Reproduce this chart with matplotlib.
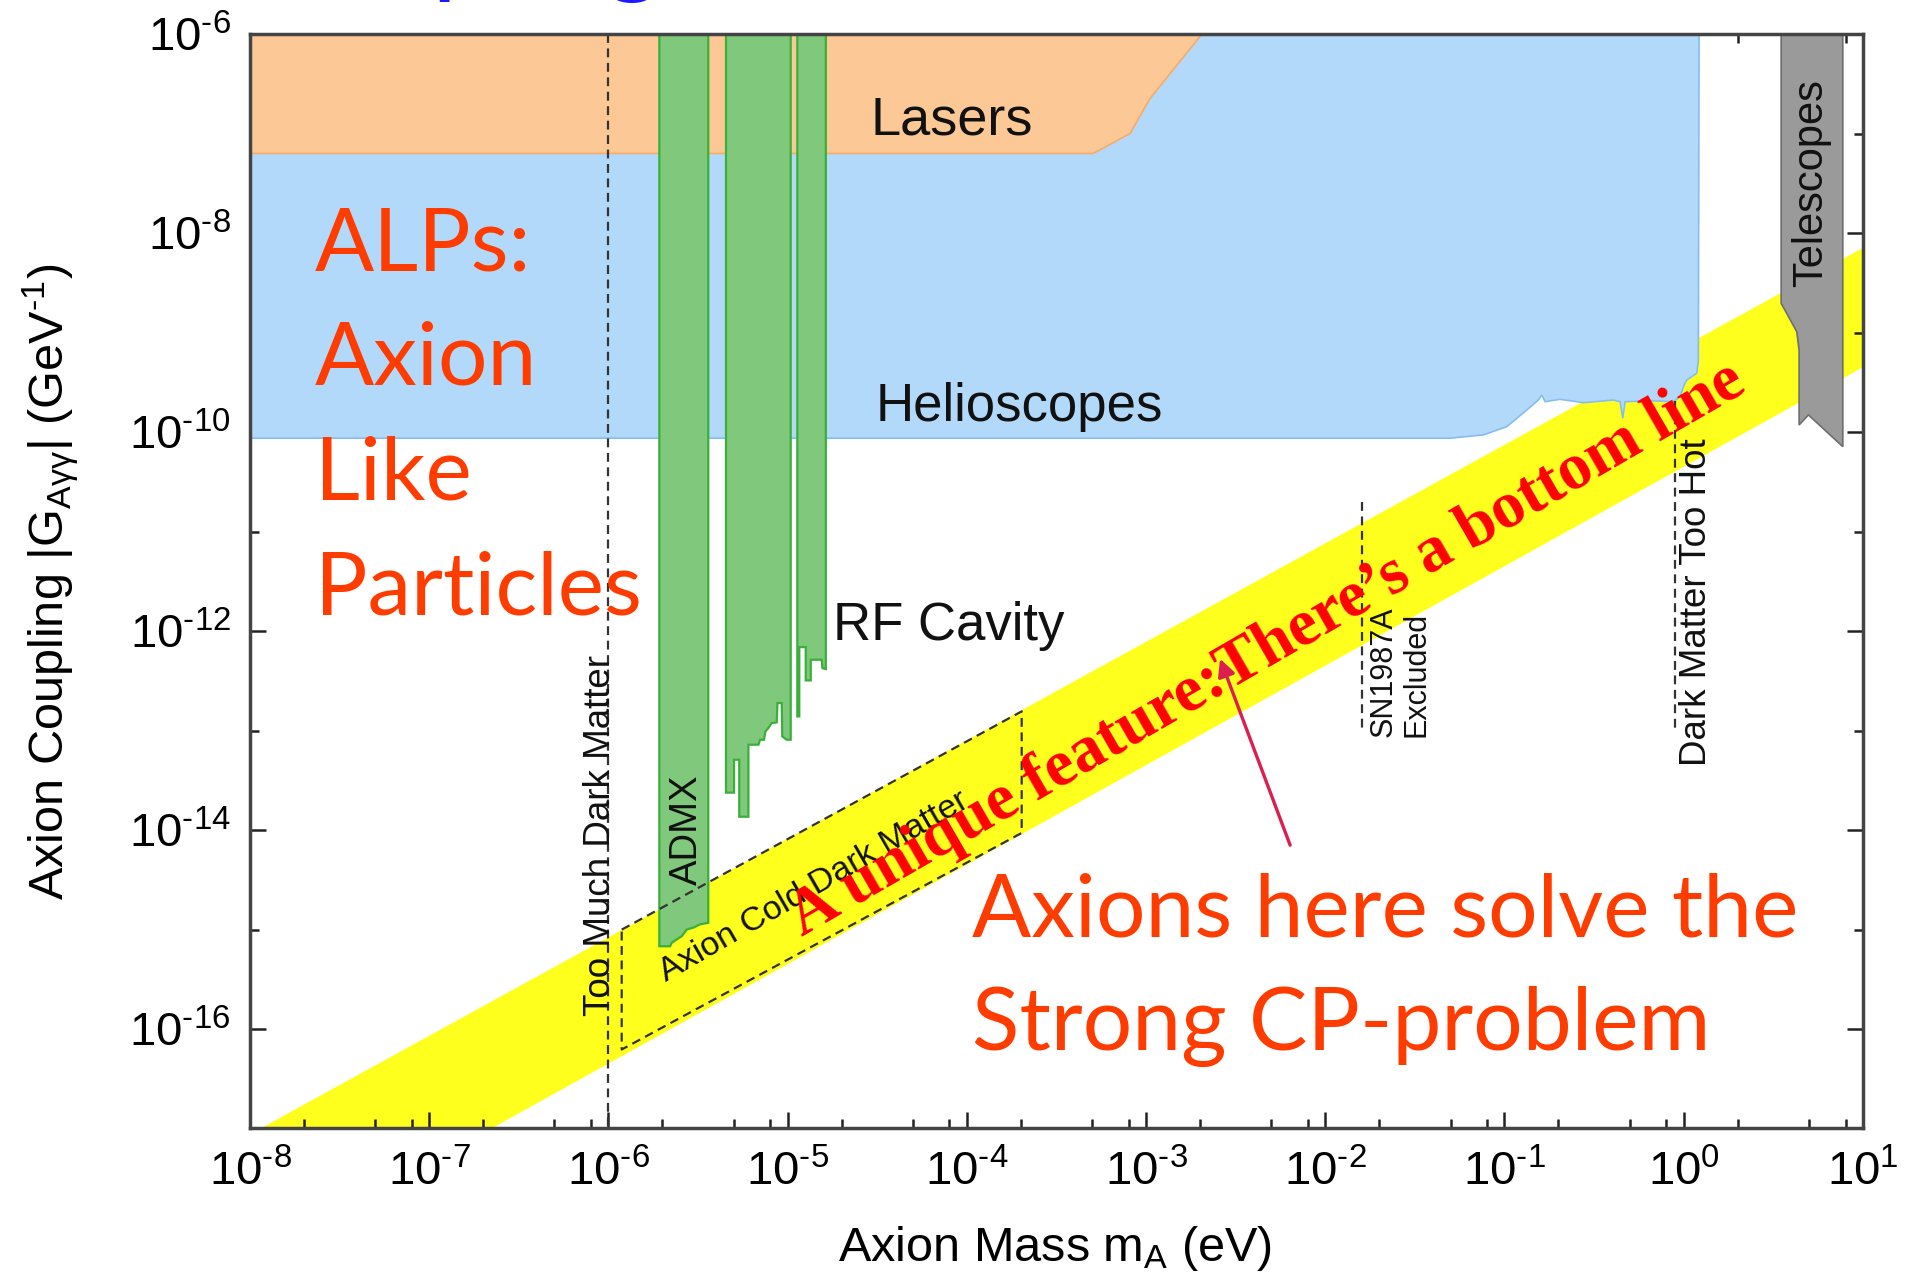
import numpy as np
import matplotlib
matplotlib.use('Agg')
import matplotlib.pyplot as plt
from matplotlib.ticker import NullFormatter

plt.rcParams['font.family'] = ['Liberation Sans', 'DejaVu Sans']
plt.rcParams['mathtext.fontset'] = 'custom'
plt.rcParams['mathtext.rm'] = 'Liberation Sans'
plt.rcParams['mathtext.it'] = 'Liberation Sans:italic'
plt.rcParams['mathtext.default'] = 'regular'
plt.rcParams['axes.unicode_minus'] = False

# axis decades (log10)
x_decades = list(range(-8, 2))
x_minor_mult = [2, 5, 8]
y_label_decades = [-16, -14, -12, -10, -8, -6]
y_minor_decades = [-15, -13, -11, -9, -7]

# region outlines, all in log10(m_A / eV) and log10(g / GeV^-1)
lasers_logm = [-8, -3.294, -3.089, -2.978, -2.689, -8]
lasers_logg = [-7.198, -7.198, -6.997, -6.646, -6.0, -6.0]

helio_logm = [-8, -8, -1.304, -1.118, -0.987, -0.875, -0.811, -0.792, -0.773, -0.690,
              -0.560, -0.392, -0.355, -0.340, -0.327, -0.187, -0.057, -0.020, -0.001,
              0.017, 0.073, 0.082, 0.086]
helio_logg = [-6, -10.061, -10.061, -10.028, -9.945, -9.777, -9.677, -9.626, -9.694, -9.670,
              -9.704, -9.677, -9.694, -9.860, -9.694, -9.684, -9.694, -9.643, -9.543,
              -9.476, -9.408, -9.275, -6]

admx_logm = [-5.716, -5.716, -5.656, -5.647, -5.619, -5.591, -5.563, -5.526, -5.489, -5.443, -5.443]
admx_logg = [-6, -15.168, -15.168, -15.134, -15.099, -15.067, -15.000, -14.981, -14.948, -14.932, -6]

rf1_logm = [-5.344, -5.344, -5.299, -5.299, -5.270, -5.270, -5.219, -5.219, -5.163, -5.154, -5.132,
            -5.124, -5.108, -5.089, -5.061, -5.057, -5.033, -5.030, -5.005, -4.983, -4.983]
rf1_logg = [-6, -13.624, -13.624, -13.293, -13.293, -13.866, -13.866, -13.142, -13.142, -13.092, -13.092,
            -13.009, -12.976, -12.924, -12.918, -12.723, -12.723, -13.059, -13.092, -13.092, -6]

rf2_logm = [-4.946, -4.946, -4.935, -4.935, -4.899, -4.899, -4.871, -4.871, -4.810, -4.806, -4.787, -4.787]
rf2_logg = [-6, -12.858, -12.858, -12.161, -12.161, -12.496, -12.496, -12.288, -12.288, -12.372, -12.382, -6]

tele_logm = [0.544, 0.544, 0.631, 0.644, 0.644, 0.696, 0.888, 0.888]
tele_logg = [-6, -8.705, -8.990, -9.174, -9.928, -9.827, -10.146, -6]

# QCD axion band (yellow) and cold dark matter window
band_logm = [-8, 1]
band_upper = [-17.05, -8.14]
band_lower = [-18.34, -9.34]
cdm_logm = [-5.926, -3.694, -3.694, -5.926, -5.926]
cdm_logg = [-15.001, -12.807, -14.029, -16.206, -15.001]

# dashed limits: (log m, log g top, log g bottom)
too_much_dm = (-6.0, -6.0, -17.0)
sn1987a = (-1.797, -10.698, -13.008)
dm_too_hot = (-0.048, -9.69, -12.99)


def p10(v):
    return 10.0 ** np.asarray(v, dtype=float)


def pow_label(d):
    # plain hyphen in the exponent, as gnuplot draws it
    return f'$10^{{\\text{{{d}}}}}$'


fig = plt.figure(figsize=(19.13, 12.77), dpi=100)
ax = fig.add_axes([0.1307, 0.1163, 0.8431, 0.8569])
ax.set_xscale('log')
ax.set_yscale('log')

ax.fill_between(p10(band_logm), p10(band_lower), p10(band_upper), color='#FFFF1E', lw=0, zorder=1)
ax.fill(p10(helio_logm), p10(helio_logg), facecolor='#B3D9FA', edgecolor='#86BDF0', lw=1.2, zorder=2)
ax.fill(p10(lasers_logm), p10(lasers_logg), facecolor='#FCC996', edgecolor='#F6AC66', lw=1.2, zorder=2)
for xs, ys in [(admx_logm, admx_logg), (rf1_logm, rf1_logg), (rf2_logm, rf2_logg)]:
    ax.fill(p10(xs), p10(ys), facecolor='#80C97C', edgecolor='#3AAF3A', lw=1.6, zorder=3)
ax.fill(p10(tele_logm), p10(tele_logg), facecolor='#9A9A9A', edgecolor='#6E6E6E', lw=1.2, zorder=3)

dash = dict(color='#333333', lw=1.6, ls=(0, (4, 2.5)), zorder=4)
ax.plot(p10(cdm_logm), p10(cdm_logg), **dash)
for lm, top, bot in [too_much_dm, sn1987a, dm_too_hot]:
    ax.plot(p10([lm, lm]), p10([top, bot]), **dash)

ax.set_xlim(1e-8, 10)
ax.set_ylim(1e-17, 1e-6)

# ticks
ax.set_xticks(p10(x_decades))
ax.set_xticklabels([pow_label(d) for d in x_decades])
ax.set_xticks([m * 10.0 ** d for d in x_decades[:-1] for m in x_minor_mult], minor=True)
ax.set_yticks(p10(y_label_decades))
ax.set_yticklabels([pow_label(d) for d in y_label_decades])
ax.set_yticks(p10(y_minor_decades), minor=True)
ax.xaxis.set_minor_formatter(NullFormatter())
ax.yaxis.set_minor_formatter(NullFormatter())
ax.tick_params(which='both', direction='in', top=True, right=True, color='#222222', width=1.8)
ax.tick_params(which='major', length=11.5, labelsize=34, pad=14)
ax.tick_params(which='minor', length=6.3)
ax.tick_params(axis='x', which='major', pad=16)
for s in ax.spines.values():
    s.set_color('#444444')
    s.set_linewidth(2.5)
    s.set_zorder(6)

ax.set_xlabel('Axion Mass m$_A$ (eV)', fontsize=35)
ax.xaxis.set_label_coords(0.499, -0.087)
ax.set_ylabel('Axion Coupling |G$_{A\u03b3\u03b3}$| (GeV$^{\\text{-1}}$)', fontsize=35)
ax.yaxis.set_label_coords(-0.105, 0.5)

# region names
ax.text(p10(-4.540), p10(-7.005), 'Lasers', fontsize=39, color='#111111', zorder=5)
ax.text(p10(-4.507), p10(-9.888), 'Helioscopes', fontsize=38, color='#111111', zorder=5)
ax.text(p10(-4.747), p10(-12.092), 'RF Cavity', fontsize=38, color='#111111', zorder=5)

rot90 = dict(rotation=90, rotation_mode='anchor', ha='left', va='baseline', color='#111111', zorder=5)
ax.text(p10(-5.99), p10(-15.871), 'Too Much Dark Matter', fontsize=26.5, **rot90)
ax.text(p10(-5.507), p10(-14.548), 'ADMX', fontsize=27.5, **rot90)
ax.text(p10(-1.627), p10(-13.06), 'SN1987A', fontsize=22, **rot90)
ax.text(p10(-1.449), p10(-13.06), 'Excluded', fontsize=22, **rot90)
ax.text(p10(0.125), p10(-13.36), 'Dark Matter Too Hot', fontsize=26.5, **rot90)
ax.text(p10(0.771), p10(-8.538), 'Telescopes', fontsize=30, **rot90)

ax.text(p10(-5.679), p10(-15.523), 'Axion Cold Dark Matter', fontsize=24.5, rotation=30,
        rotation_mode='anchor', ha='left', va='baseline', color='#111111', zorder=5)

# slide annotations
ax.text(p10(-4.92), p10(-15.07), 'A unique feature:There\u2019s a bottom line', fontsize=47.5,
        family=['Liberation Serif', 'DejaVu Serif'], weight='bold', color='#FF0000',
        rotation=30, rotation_mode='anchor', ha='left', va='baseline', zorder=7)
ax.annotate('', xy=(p10(-2.587), p10(-12.278)), xytext=(p10(-2.196), p10(-14.152)),
            arrowprops=dict(arrowstyle='-|>', color='#DC1E50', lw=2.4, mutation_scale=26,
                            shrinkA=0, shrinkB=0), zorder=7)

orange = '#FF3C00'
alps_lines = ['ALPs:', 'Axion', 'Like', 'Particles']
alps_logg = [-8.378, -9.526, -10.681, -11.836]
for line, lg in zip(alps_lines, alps_logg):
    ax.text(p10(-7.637), p10(lg), line, fontsize=63, family=['Lato', 'DejaVu Sans'],
            color=orange, va='baseline', zorder=7)

cp_lines = ['Axions here solve the', 'Strong CP-problem']
cp_logg = [-15.068, -16.206]
for line, lg in zip(cp_lines, cp_logg):
    ax.text(p10(-3.971), p10(lg), line, fontsize=63, family=['Lato', 'DejaVu Sans'],
            color=orange, va='baseline', zorder=7)

# slide title, mostly above the frame
fig.text(0.125, 1.013, 'Coupling', fontsize=78, family=['Lato', 'DejaVu Sans'],
         color='#1A1AFF', va='baseline')

fig.savefig('out.png', dpi=100)
